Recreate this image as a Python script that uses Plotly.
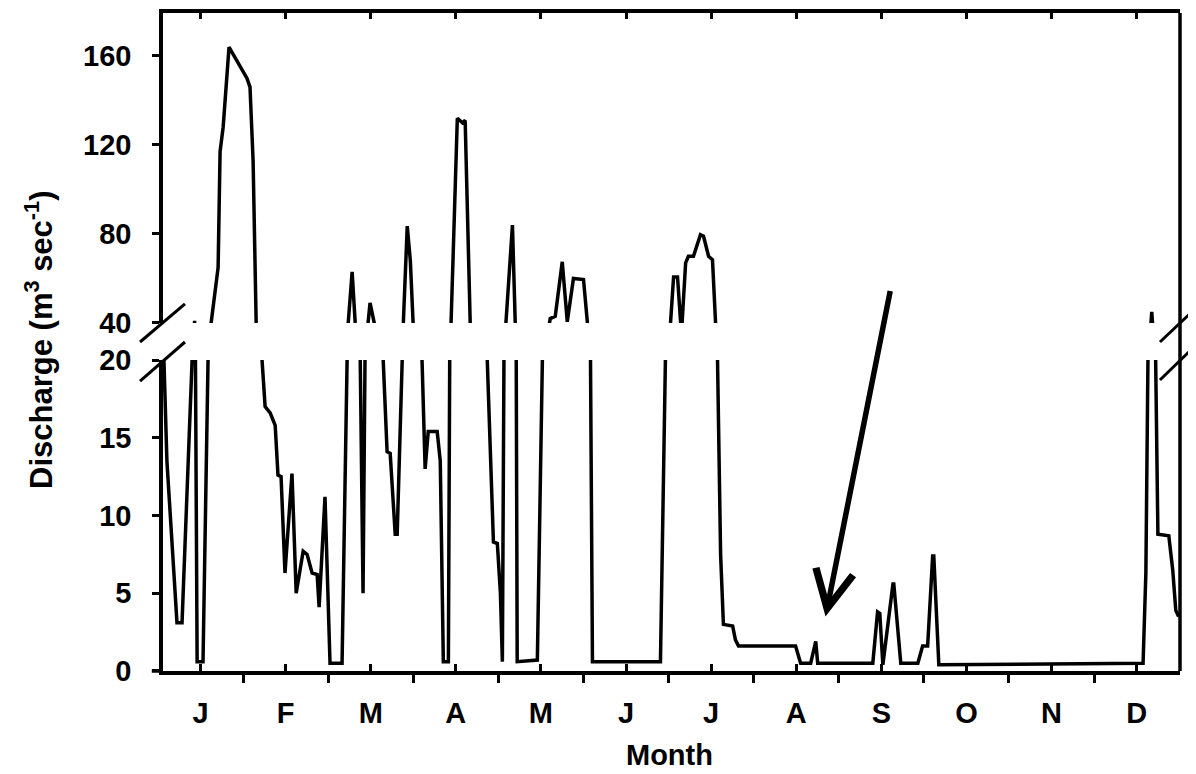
import plotly.graph_objects as go

# ---- data (day of year, discharge m3/s) ----
day = [1.8, 2.5, 3.2, 6.8, 8.6, 12.2, 13.1, 13.4, 14.0, 16.1, 17.9, 19.0, 20.4, 21.5, 22.2, 23.3,
       25.4, 31.8, 32.9, 34.0, 35.1, 37.2, 38.3, 40.1, 41.9, 42.9, 44.0, 45.4, 47.9, 49.4, 51.9,
       53.3, 55.1, 56.9, 57.6, 59.7, 61.5, 65.8, 67.6, 68.0, 69.4, 70.5, 72.3, 73.3, 74.7, 75.8,
       77.3, 80.5, 81.9, 83.0, 84.8, 85.5, 87.3, 87.7, 89.1, 90.2, 91.2, 94.5, 95.5, 96.6, 99.8,
       100.9, 102.0, 103.8, 107.0, 108.8, 109.8, 111.6, 117.7, 119.9, 121.3, 122.4, 123.1, 124.1,
       126.7, 127.7, 128.4, 135.6, 137.4, 140.2, 142.0, 144.5, 146.3, 148.5, 152.1, 153.5, 154.6,
       155.3, 179.6, 181.4, 183.2, 184.3, 185.7, 187.1, 188.6, 189.6, 191.4, 193.9, 195.0, 196.8,
       198.2, 199.3, 200.0, 201.1, 202.1, 205.4, 206.4, 207.5, 227.9, 229.7, 233.3, 235.1, 235.8,
       255.5, 257.2, 258.0, 259.1, 262.7, 263.0, 265.5, 271.6, 273.3, 275.1, 276.9, 277.3, 279.1,
       352.1, 353.1, 353.8, 355.2, 356.6, 357.4, 361.3, 362.7, 363.8, 364.8]
discharge = [22, 18, 13.5, 3.1, 3.1, 20, 41, 20, 0.6, 0.6, 20, 40, 56, 65, 117, 128,
             164, 150, 146, 113, 40, 20, 17, 16.6, 15.8, 12.6, 12.5, 6.3, 12.7, 5, 7.7,
             7.5, 6.3, 6.2, 4.1, 11.2, 0.5, 0.5, 20, 40, 63, 40, 20, 5, 35, 49,
             40, 20, 14.1, 14, 8.8, 8.8, 20, 40, 83.5, 68, 40, 20, 13, 15.4, 15.4,
             13.5, 0.6, 0.6, 132, 130, 131, 40, 20, 8.3, 8.2, 5, 0.6, 35,
             84, 40, 0.6, 0.7, 20, 42, 43, 67.5, 40.5, 60, 59.5, 40, 20,
             0.6, 0.6, 20, 40, 60.7, 60.7, 35, 67, 70, 70, 79.7, 79, 70,
             68.4, 40, 20, 7.5, 3, 2.9, 2, 1.6, 1.6, 0.5, 0.5, 1.9, 0.5,
             0.5, 3.8, 3.7, 0.4, 5.6, 5.6, 0.5, 0.5, 1.6, 1.6, 7.4, 7.4, 0.4,
             0.5, 6.3, 20, 45, 20, 8.8, 8.7, 6.5, 3.9, 3.5]

months = ["J", "F", "M", "A", "M", "J", "J", "A", "S", "O", "N", "D"]
month_len = 365 / 12
month_centers = [(i + 0.5) * month_len for i in range(12)]
month_bounds = [i * month_len for i in range(1, 12)]

lower_ticks = [0, 5, 10, 15, 20]
upper_ticks = [40, 80, 120, 160]

arrow_day, arrow_val = 238.6, 3.5

FONT = "Liberation Sans, Arial, Helvetica, sans-serif"
tfont = dict(family=FONT, size=29, color="black", weight="bold")

fig = go.Figure()
line = dict(color="black", width=3.5)
fig.add_trace(go.Scatter(x=day, y=discharge, mode="lines", line=line,
                         xaxis="x", yaxis="y", showlegend=False, hoverinfo="skip"))
fig.add_trace(go.Scatter(x=day, y=discharge, mode="lines", line=line,
                         xaxis="x2", yaxis="y2", showlegend=False, hoverinfo="skip"))

xr = [1.8, 365.3]
fig.update_layout(
    template="none",
    width=1188, height=766,
    margin=dict(l=155, r=16, t=5, b=103, autoexpand=False),
    paper_bgcolor="white", plot_bgcolor="white",
    xaxis=dict(domain=[0, 1], anchor="y", range=xr, showgrid=False, zeroline=False,
               automargin=False,
               showline=True, linecolor="black", linewidth=3.5,
               tickmode="array", tickvals=month_centers, ticktext=months,
               ticks="inside", ticklen=7, tickwidth=2.5, tickcolor="black",
               tickfont=tfont, ticklabelstandoff=13,
               minor=dict(tickmode="array", tickvals=month_bounds, ticks="outside",
                          ticklen=8, tickwidth=2.5, tickcolor="black", showgrid=False)),
    xaxis2=dict(domain=[0, 1], anchor="y2", range=xr, matches="x", side="top",
                automargin=False,
                showgrid=False, zeroline=False, showline=True, linecolor="black",
                linewidth=3.5, tickmode="array", tickvals=month_centers,
                showticklabels=False, ticks="inside", ticklen=6, tickwidth=2.5,
                tickcolor="black"),
    yaxis=dict(domain=[0, 0.4726], anchor="x", range=[0, 20], showgrid=False,
               automargin=False,
               zeroline=False, showline=True, linecolor="black", linewidth=3.5,
               tickmode="array", tickvals=lower_ticks, ticks="outside", ticklen=7,
               tickwidth=2.5, tickcolor="black", tickfont=tfont, ticklabelstandoff=15),
    yaxis2=dict(domain=[0.5289, 1], anchor="x2", range=[40, 179.3], showgrid=False,
                automargin=False,
                zeroline=False, showline=True, linecolor="black", linewidth=3.5,
                tickmode="array", tickvals=upper_ticks, ticks="outside", ticklen=7,
                tickwidth=2.5, tickcolor="black", tickfont=tfont, ticklabelstandoff=15),
)

# right border spanning both panels
fig.add_shape(type="line", xref="paper", yref="paper", x0=1, x1=1, y0=0, y1=1,
              line=dict(color="black", width=3.5))
# short stub of the x-axis line left of the y-axis
fig.add_shape(type="line", xref="paper", yref="paper", x0=-0.011, x1=0, y0=0, y1=0,
              line=dict(color="black", width=3.5))
# axis-break slashes
for (xa, ya, xb, yb) in [(-0.0226, 0.500, 0.0216, 0.5578),
                         (-0.0226, 0.4407, 0.0216, 0.500),
                         (0.9803, 0.500, 1.0157, 0.5517),
                         (0.9803, 0.4422, 1.0157, 0.4954)]:
    fig.add_shape(type="line", xref="paper", yref="paper", x0=xa, y0=ya, x1=xb, y1=yb,
                  line=dict(color="black", width=3))

# arrow
fig.add_annotation(x=arrow_day, y=arrow_val, xref="x", yref="y", text="",
                   showarrow=True, arrowhead=5, arrowwidth=5.5, arrowsize=1.35,
                   arrowcolor="black", ax=65, ay=-327, standoff=0)

# axis titles
fig.add_annotation(text="Discharge (m<sup>3</sup> sec<sup>-1</sup>)", xref="paper", yref="paper",
                   x=-0.122, y=0.503, textangle=-90, showarrow=False,
                   xanchor="center", yanchor="middle",
                   font=dict(family=FONT, size=31, color="black", weight="bold"))
fig.add_annotation(text="Month", xref="paper", yref="paper", x=0.4985, y=-0.128,
                   showarrow=False, xanchor="center", yanchor="middle",
                   font=dict(family=FONT, size=29, color="black", weight="bold"))

fig.write_html("out.html")
